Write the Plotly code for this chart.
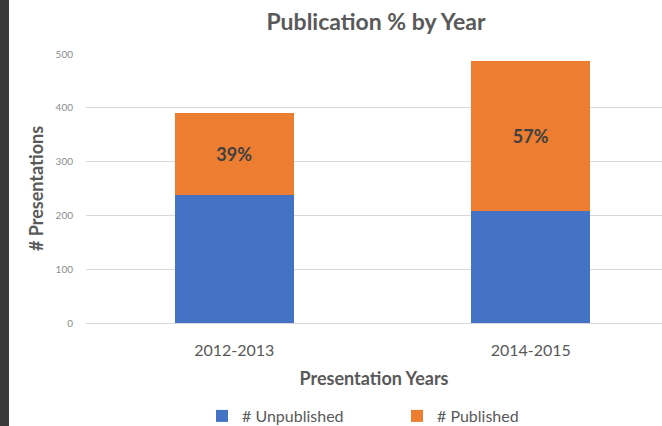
import plotly.graph_objects as go

categories = ["2012-2013", "2014-2015"]
unpublished = [238, 208]
published = [152, 279]
y_ticks = [0, 100, 200, 300, 400, 500]

pct_labels = [f"{round(100 * p / (u + p))}%" for u, p in zip(unpublished, published)]

FONT = "Lato, 'Open Sans', sans-serif"
W, H = 662, 426
L, R, T, B = 86, 0, 54, 103
pw = W - L - R
ph = H - T - B

fig = go.Figure()
fig.add_trace(go.Bar(
    x=categories, y=unpublished, name="# Unpublished",
    marker=dict(color="#4472C4", line=dict(width=0)), width=0.4,
))
fig.add_trace(go.Bar(
    x=categories, y=published, name="# Published",
    marker=dict(color="#ED7D31", line=dict(width=0)), width=0.4,
    text=pct_labels, textposition="inside", insidetextanchor="middle",
    textfont=dict(family=FONT, size=18, color="#404040", weight="bold"),
    textangle=0,
))

fig.update_layout(
    barmode="stack",
    width=W, height=H,
    margin=dict(l=L, r=R, t=T, b=B, autoexpand=False),
    paper_bgcolor="white", plot_bgcolor="white",
    font=dict(family=FONT, color="#595959"),
    title=dict(text="<b>Publication % by Year</b>", x=376 / W, xanchor="center",
               y=1 - 22 / H, yanchor="middle",
               font=dict(size=23, color="#595959", family=FONT)),
    xaxis=dict(
        type="category", range=[-0.5, -0.5 + pw / 296.5], automargin=False,
        showgrid=False, showline=False, ticks="",
        tickfont=dict(size=16, color="#595959", family=FONT),
        ticklabelstandoff=16,
        title=dict(text="<b>Presentation Years</b>", font=dict(size=18, color="#595959", family=FONT),
                   standoff=14),
    ),
    yaxis=dict(
        range=[0, 500], tickvals=y_ticks, showgrid=True, gridcolor="#D9D9D9", gridwidth=1,
        zeroline=True, zerolinecolor="#D9D9D9", zerolinewidth=1, showline=False,
        automargin=False,
        tickfont=dict(size=10, color="#8C8C8C", family=FONT),
        ticklabelstandoff=12,
        title=dict(text="<b># Presentations</b>", font=dict(size=18, color="#595959", family=FONT),
                   standoff=7),
    ),
    legend=dict(orientation="h", x=(202 - L) / pw, xanchor="left",
                y=(323 - 416) / ph, yanchor="middle", traceorder="normal",
                font=dict(size=16, color="#595959", family=FONT),
                itemwidth=30, entrywidth=150, entrywidthmode="pixels"),
    showlegend=True,
    shapes=[dict(type="rect", xref="paper", yref="paper",
                 x0=-L / pw, x1=(9 - L) / pw, y0=-B / ph, y1=1 + T / ph,
                 fillcolor="#3A3A3A", line=dict(width=0), layer="above")],
)

fig.write_html("out.html", config={"displayModeBar": False},
               post_script="document.body.style.margin='0';document.body.style.overflow='hidden';")
